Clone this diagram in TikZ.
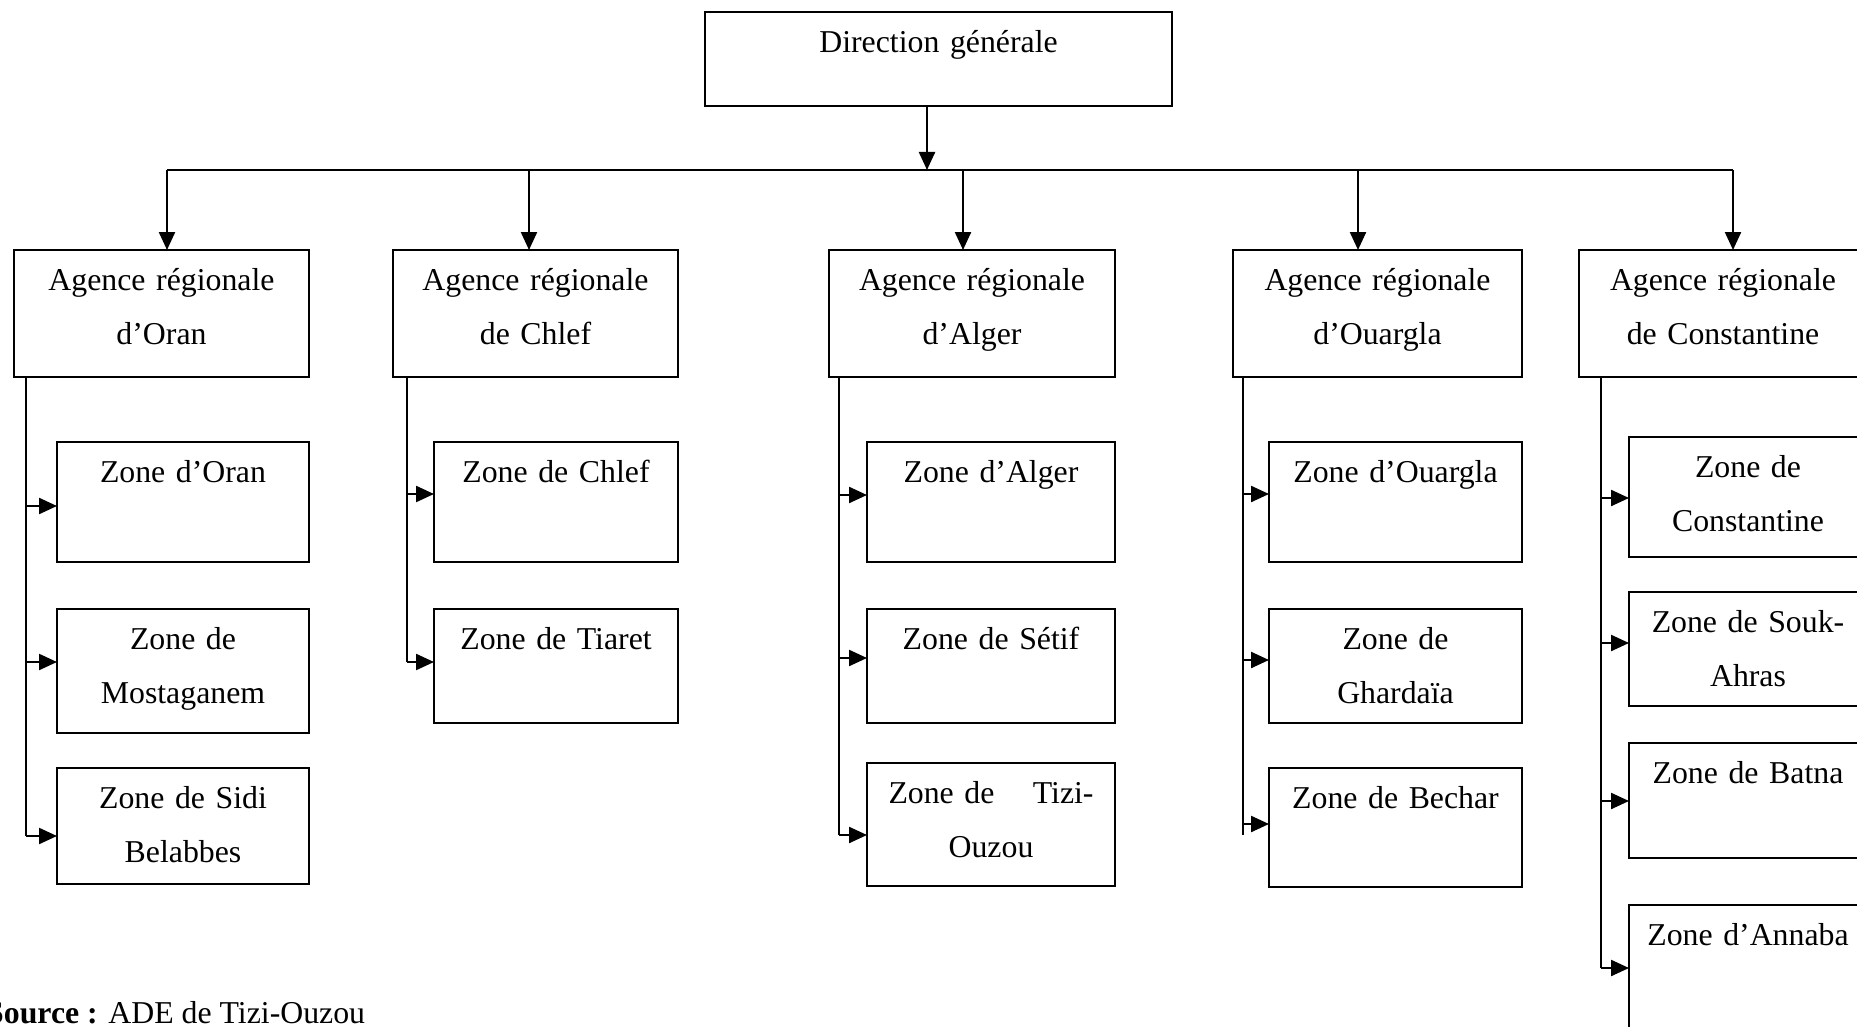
\documentclass[tikz,border=0pt]{standalone}
\usepackage{fontspec}
\setmainfont{Liberation Serif}
\usetikzlibrary{arrows.meta}

\tikzset{
  orgbox/.style={draw, line width=2.3pt, inner sep=0pt, outer sep=0pt, anchor=north west},
  boxtext/.style={anchor=base, align=center, text width=280pt, inner sep=0pt,
                  font=\fontsize{31.8}{54}\selectfont},
  link/.style={line width=2.3pt},
  thinlink/.style={line width=1.5pt},
  arr/.style={-{Triangle[length=18pt,width=16pt]}, line width=2.3pt},
}

% #1 name, #2 x, #3 y (top left), #4 width, #5 height, #6 text
\newcommand\orgunit[6]{%
  \node[orgbox, minimum width=#4pt, minimum height=#5pt] (#1) at (#2,#3) {};
  \node[boxtext] (#1-t) at ([yshift=-40.5pt]#1.north) {#6};%
}

\begin{document}
\begin{tikzpicture}[x=1pt, y=-1pt]
\useasboundingbox (0,0) rectangle (1857,1027);

% Head office
\orgunit{dg}{705}{12}{467}{94}{Direction générale}

% Regional agencies
\orgunit{ag1}{14}{250}{295}{127}{Agence régionale\\d’Oran}
\orgunit{ag2}{393}{250}{285}{127}{Agence régionale\\de Chlef}
\orgunit{ag3}{829}{250}{286}{127}{Agence régionale\\d’Alger}
\orgunit{ag4}{1233}{250}{289}{127}{Agence régionale\\d’Ouargla}
\orgunit{ag5}{1579}{250}{288}{127}{Agence régionale\\de Constantine}

% Zones of Oran
\orgunit{z11}{57}{442}{252}{120}{Zone d’Oran}
\orgunit{z12}{57}{609}{252}{124}{Zone de\\Mostaganem}
\orgunit{z13}{57}{768}{252}{116}{Zone de Sidi\\Belabbes}

% Zones of Chlef
\orgunit{z21}{434}{442}{244}{120}{Zone de Chlef}
\orgunit{z22}{434}{609}{244}{114}{Zone de Tiaret}

% Zones of Alger
\orgunit{z31}{867}{442}{248}{120}{Zone d’Alger}
\orgunit{z32}{867}{609}{248}{114}{Zone de Sétif}
\orgunit{z33}{867}{763}{248}{123}{\hbox to 205pt{Zone de\hfill Tizi-}\\Ouzou}

% Zones of Ouargla
\orgunit{z41}{1269}{442}{253}{120}{Zone d’Ouargla}
\orgunit{z42}{1269}{609}{253}{114}{Zone de\\Ghardaïa}
\orgunit{z43}{1269}{768}{253}{119}{Zone de Bechar}

% Zones of Constantine
\orgunit{z51}{1629}{437}{238}{120}{Zone de\\Constantine}
\orgunit{z52}{1629}{592}{238}{114}{Zone de Souk-\\Ahras}
\orgunit{z53}{1629}{743}{238}{115}{Zone de Batna}
\orgunit{z54}{1629}{905}{238}{140}{Zone d’Annaba}

% Distribution bus below the head office
\coordinate (hub) at (927,170);
\coordinate (d1) at (167,170);
\coordinate (d2) at (529,170);
\coordinate (d3) at (963,170);
\coordinate (d4) at (1358,170);
\coordinate (d5) at (1733,170);

\draw[arr] (dg.south -| hub) -- (hub);
\draw[link] (d1) -- (d5);
\draw[arr] (d1) -- (d1 |- ag1.north);
\draw[arr] (d2) -- (d2 |- ag2.north);
\draw[arr] (d3) -- (d3 |- ag3.north);
\draw[arr] (d4) -- (d4 |- ag4.north);
\draw[arr] (d5) -- (d5 |- ag5.north);

% Arrow tips on the zone boxes
\coordinate (t11) at (57,506);
\coordinate (t12) at (57,662);
\coordinate (t13) at (57,836);
\coordinate (t21) at (434,494);
\coordinate (t22) at (434,662);
\coordinate (t31) at (867,495);
\coordinate (t32) at (867,658);
\coordinate (t33) at (867,835);
\coordinate (t41) at (1269,494);
\coordinate (t42) at (1269,660);
\coordinate (t43) at (1269,824);
\coordinate (t51) at (1629,498);
\coordinate (t52) at (1629,643);
\coordinate (t53) at (1629,801);
\coordinate (t54) at (1629,968);

% Feeder lines
\coordinate (f1) at (26,0);
\coordinate (f2) at (407,0);
\coordinate (f3) at (839,0);
\coordinate (f4) at (1243,0);
\coordinate (f5) at (1601,0);

% Oran
\draw[link] (f1 |- ag1.south) -- (f1 |- t13);
\draw[arr] (f1 |- t11) -- (t11);
\draw[arr] (f1 |- t12) -- (t12);
\draw[arr] (f1 |- t13) -- (t13);

% Chlef
\draw[link] (f2 |- ag2.south) -- (f2 |- t22);
\draw[arr] (f2 |- t21) -- (t21);
\draw[arr] (f2 |- t22) -- (t22);

% Alger
\draw[thinlink] (f3 |- ag3.south) -- (f3 |- t33);
\draw[arr] (f3 |- t31) -- (t31);
\draw[arr] (f3 |- t32) -- (t32);
\draw[arr] (f3 |- t33) -- (t33);

% Ouargla
\draw[thinlink] (f4 |- ag4.south) -- ([yshift=-11pt]f4 |- t43);
\draw[arr] (f4 |- t41) -- (t41);
\draw[arr] (f4 |- t42) -- (t42);
\draw[arr] (f4 |- t43) -- (t43);

% Constantine
\draw[link] (f5 |- ag5.south) -- (f5 |- t54);
\draw[arr] (f5 |- t51) -- (t51);
\draw[arr] (f5 |- t52) -- (t52);
\draw[arr] (f5 |- t53) -- (t53);
\draw[arr] (f5 |- t54) -- (t54);

% Source line
\node[anchor=base west, inner sep=0pt, font=\fontsize{31.8}{38}\selectfont] (src)
  at (-14,1023) {\textbf{Source :} ADE de Tizi-Ouzou};
\end{tikzpicture}
\end{document}
